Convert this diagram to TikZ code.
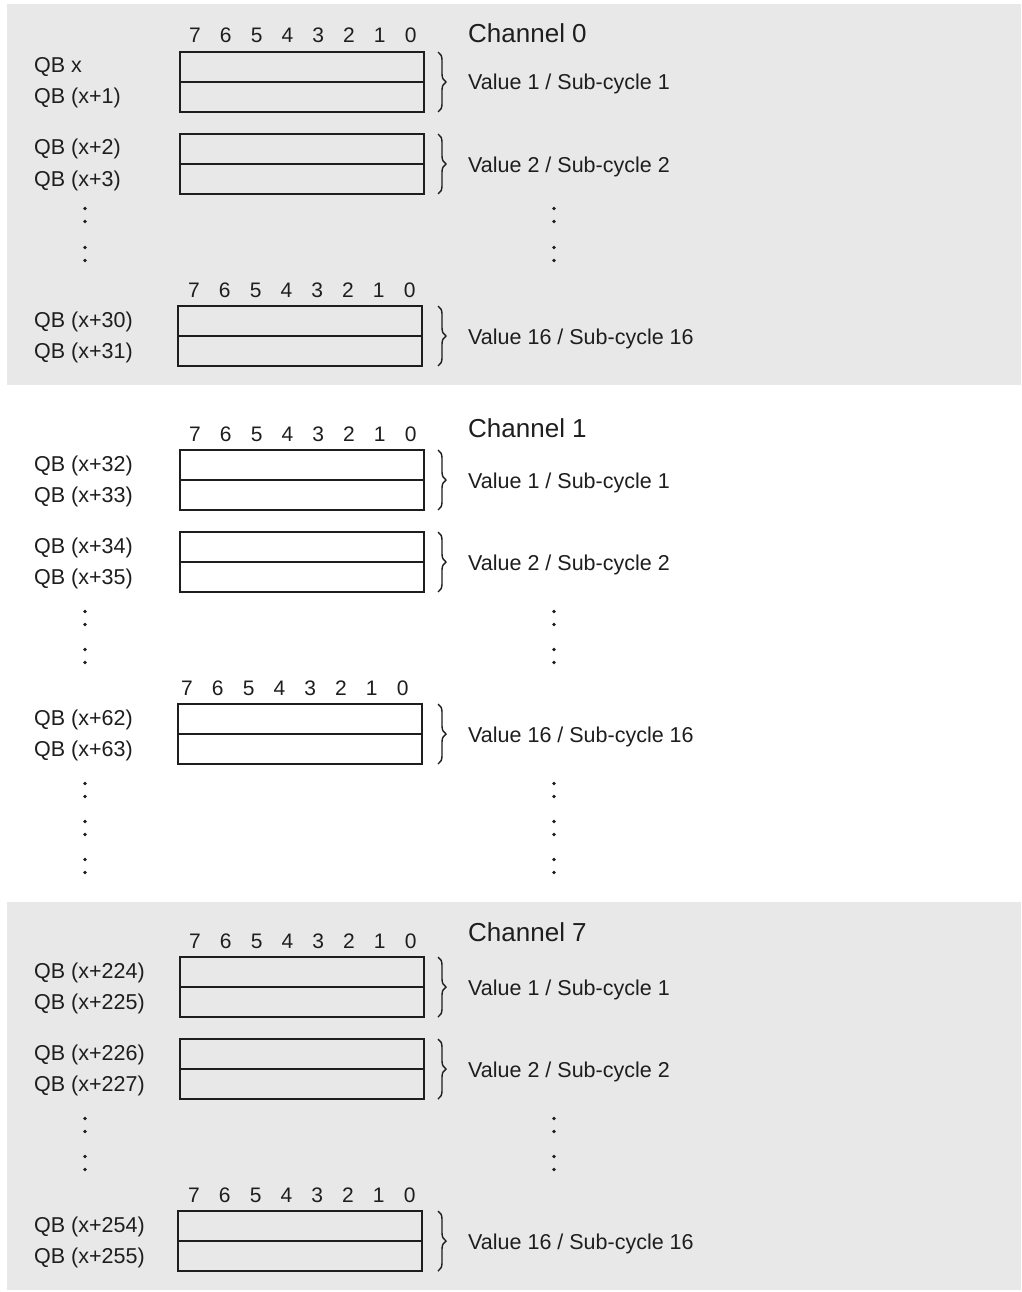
\documentclass[tikz,border=0pt]{standalone}
\usepackage{fontspec}
\setmainfont{Liberation Sans}
\usetikzlibrary{decorations.pathreplacing}
\definecolor{panel}{HTML}{E8E8E8}
\definecolor{ink}{HTML}{1E1E1E}
\tikzset{
  cell/.style={draw=ink, line width=1.4, minimum width=244, minimum height=30,
    inner sep=0, outer sep=0, anchor=north west},
  lab/.style={anchor=base west, inner sep=0, text=ink, font=\fontsize{21.5}{26}\selectfont},
  chan/.style={anchor=base west, inner sep=0, text=ink, font=\fontsize{26}{31}\selectfont},
  bitnum/.style={anchor=base, inner sep=0, text=ink, font=\fontsize{21}{25}\selectfont},
  brc/.style={draw=ink, line width=1.4, decorate, decoration={brace, amplitude=8}},
  dotmark/.style={fill=ink},
}
% #1 name, #2 box left, #3 box top, #4 label 1, #5 label 2, #6 value text
\newcommand\rblock[6]{%
  \node[cell] (#1a) at (#2,#3) {};
  \node[cell] (#1b) at (#2,#3+30) {};
  \node[lab] (#1la) at (34,#3+21) {#4};
  \node[lab] (#1lb) at (34,#3+52) {#5};
  \coordinate (#1bt) at (438,#3);
  \coordinate (#1bb) at (438,#3+60);
  \draw[brc] (#1bt) -- (#1bb);
  \node[lab] (#1v) at (468,#3+38) {#6};
}
% #1 name, #2 first bit x, #3 baseline y
\newcommand\bitrow[3]{%
  \foreach \b [count=\i from 0] in {7,6,5,4,3,2,1,0}
    \node[bitnum] (#1bit\b) at (#2+\i*30.8,#3) {\b};
}
\newcommand\mydots[2]{%
  \fill[dotmark] (#1,#2-6.5) circle (1.8);
  \fill[dotmark] (#1,#2+6.5) circle (1.8);
}
\begin{document}
\begin{tikzpicture}[x=1pt,y=-1pt]
\useasboundingbox (0,0) rectangle (1021,1292);
\fill[white] (0,0) rectangle (1021,1292);
\fill[panel] (7,4) rectangle (1021,385);
\fill[panel] (7,902) rectangle (1021,1290);

% Channel 0
\node[chan] (ch0) at (468,43) {Channel 0};
\bitrow{c0r1}{195}{43}
\rblock{c0v1}{180}{52}{QB x}{QB (x+1)}{Value 1 / Sub-cycle 1}
\rblock{c0v2}{180}{134}{QB (x+2)}{QB (x+3)}{Value 2 / Sub-cycle 2}
\mydots{85}{215}\mydots{85}{254}
\mydots{554}{215}\mydots{554}{254}
\bitrow{c0r16}{194}{297}
\rblock{c0v16}{178}{306}{QB (x+30)}{QB (x+31)}{Value 16 / Sub-cycle 16}

% Channel 1
\node[chan] (ch1) at (468,437) {Channel 1};
\bitrow{c1r1}{195}{441}
\rblock{c1v1}{180}{450}{QB (x+32)}{QB (x+33)}{Value 1 / Sub-cycle 1}
\rblock{c1v2}{180}{532}{QB (x+34)}{QB (x+35)}{Value 2 / Sub-cycle 2}
\mydots{85}{618}\mydots{85}{656}
\mydots{554}{618}\mydots{554}{656}
\bitrow{c1r16}{187}{695}
\rblock{c1v16}{178}{704}{QB (x+62)}{QB (x+63)}{Value 16 / Sub-cycle 16}
\mydots{85}{790}\mydots{85}{828}\mydots{85}{866}
\mydots{554}{790}\mydots{554}{828}\mydots{554}{866}

% Channel 7
\node[chan] (ch7) at (468,941) {Channel 7};
\bitrow{c7r1}{195}{948}
\rblock{c7v1}{180}{957}{QB (x+224)}{QB (x+225)}{Value 1 / Sub-cycle 1}
\rblock{c7v2}{180}{1039}{QB (x+226)}{QB (x+227)}{Value 2 / Sub-cycle 2}
\mydots{85}{1125}\mydots{85}{1163}
\mydots{554}{1125}\mydots{554}{1163}
\bitrow{c7r16}{194}{1202}
\rblock{c7v16}{178}{1211}{QB (x+254)}{QB (x+255)}{Value 16 / Sub-cycle 16}
\end{tikzpicture}
\end{document}
